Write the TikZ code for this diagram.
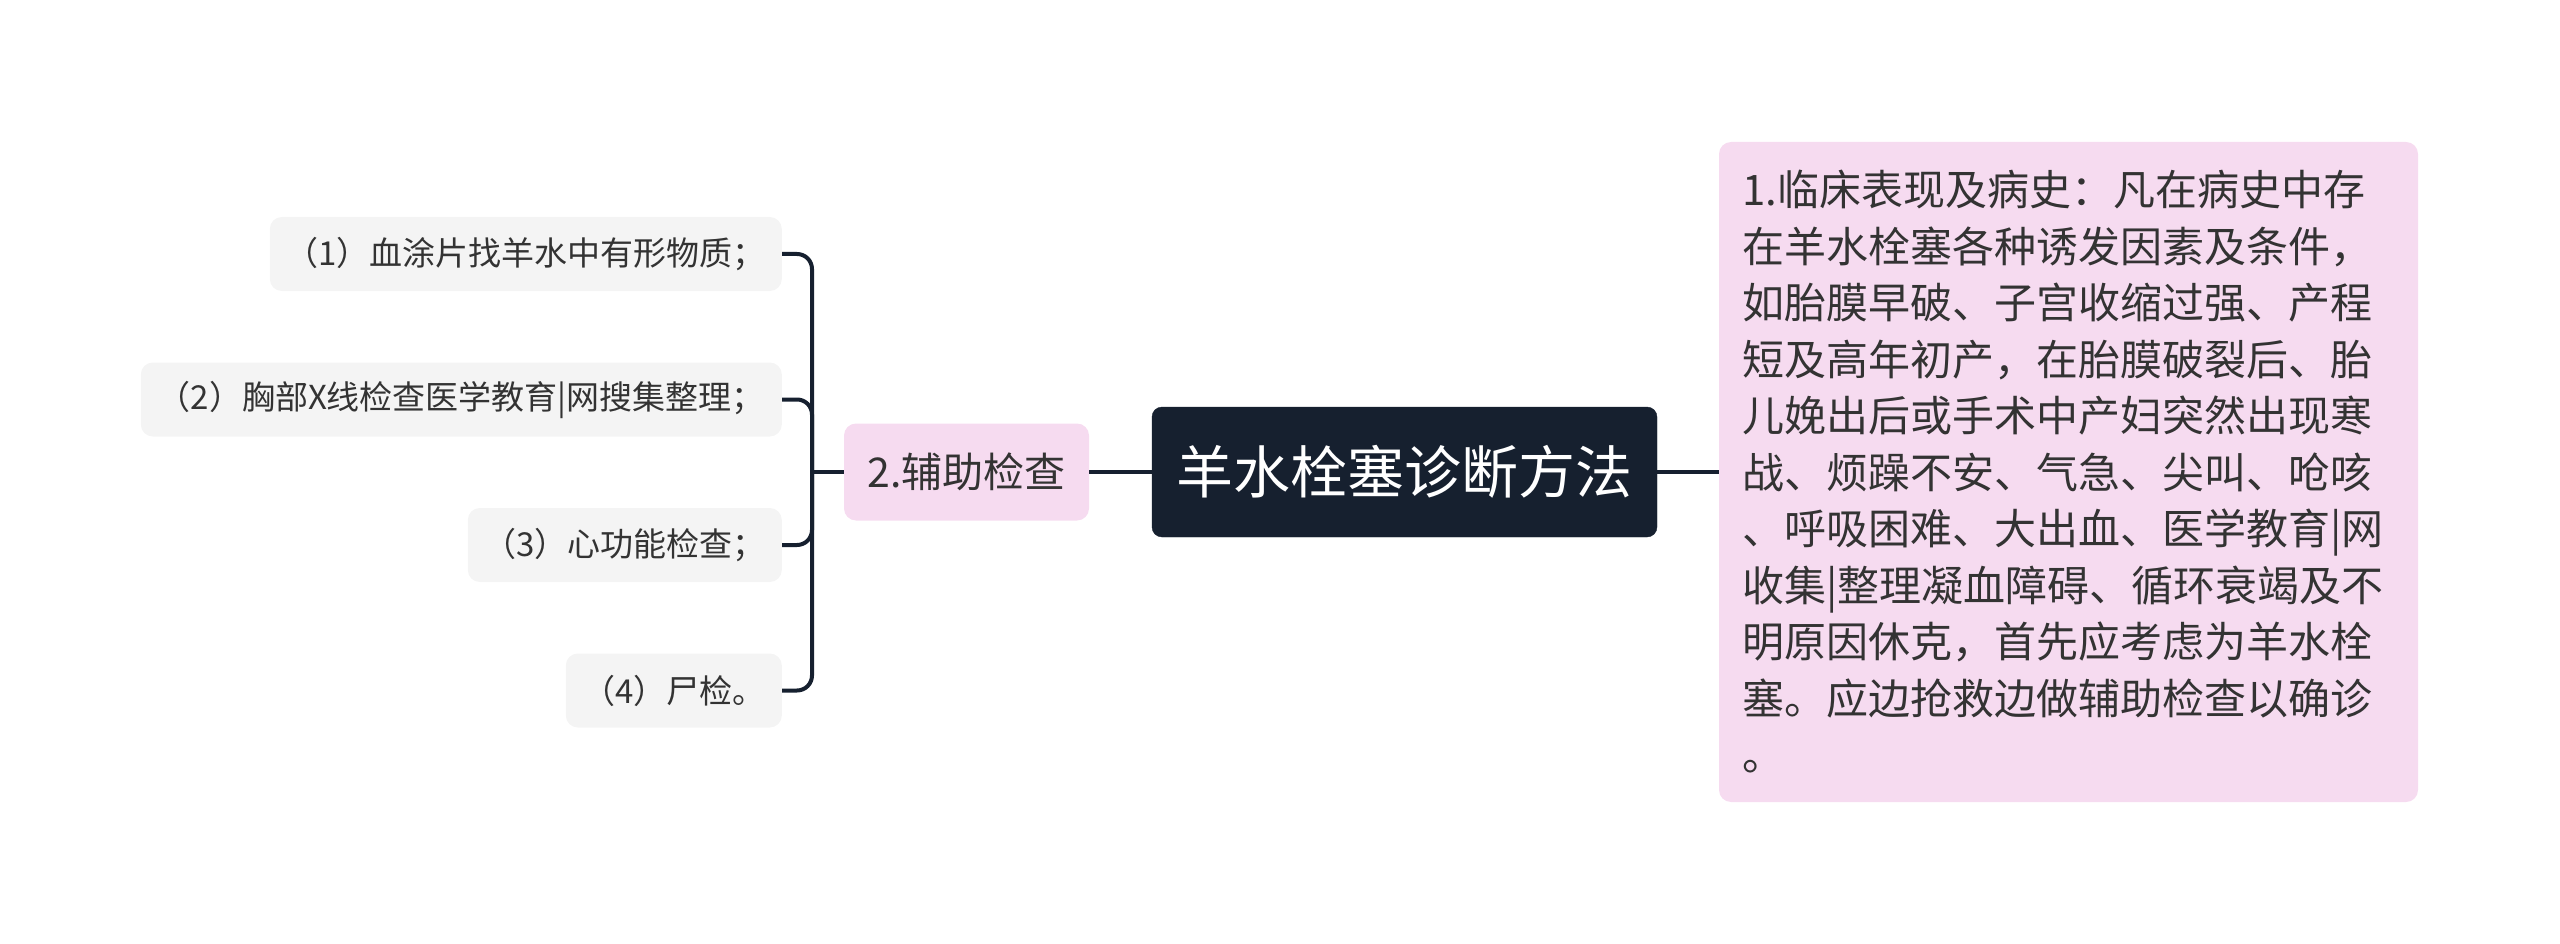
\documentclass[tikz,border=0pt]{standalone}
\usepackage{fontspec}
\newfontfamily\cjk{Noto Sans CJK SC}
\definecolor{navy}{HTML}{16202F}
\definecolor{pinkbox}{HTML}{F6DBF0}
\definecolor{leafgray}{HTML}{F4F4F4}
\definecolor{inktext}{HTML}{333333}

\begin{document}
\begin{tikzpicture}[x=1pt,y=-1pt,
		rootbox/.style={fill=navy, draw=navy, rounded corners=10pt, text=white, inner xsep=0pt,
			minimum width=505pt, minimum height=130pt, font=\cjk\fontsize{57pt}{68pt}\selectfont},
		pinkbox/.style={fill=pinkbox, rounded corners=12pt, text=inktext, inner xsep=0pt,
			font=\cjk\fontsize{41pt}{56.5pt}\selectfont},
		leafbox/.style={fill=leafgray, rounded corners=12pt, text=inktext, inner xsep=0pt,
			minimum height=74pt, anchor=east, font=\cjk\fontsize{33pt}{40pt}\selectfont},
		link/.style={draw=navy, line width=4pt, rounded corners=15pt}]
			\useasboundingbox (0,0) rectangle (2560,944);
			\node[rootbox] (root) at (1404.5,472) {羊水栓塞诊断方法};
			\node[pinkbox, minimum width=245pt, minimum height=97pt] (aux) at (966.5,472) {2.辅助检查};
			\node[pinkbox, text width=653pt, inner xsep=23pt, minimum height=660pt, align=left,
				font=\cjk\fontsize{42pt}{56.5pt}\selectfont] (clin) at (2068.5,472)
				{1.临床表现及病史：凡在病史中存\\
				在羊水栓塞各种诱发因素及条件，\\
				如胎膜早破、子宫收缩过强、产程\\
				短及高年初产，在胎膜破裂后、胎\\
				儿娩出后或手术中产妇突然出现寒\\
				战、烦躁不安、气急、尖叫、呛咳\\
				、呼吸困难、大出血、医学教育|网\\
				收集|整理凝血障碍、循环衰竭及不\\
				明原因休克，首先应考虑为羊水栓\\
				塞。应边抢救边做辅助检查以确诊\\
				。};
			\node[leafbox, minimum width=512pt] (leafa) at (782,254) {（1）血涂片找羊水中有形物质；};
			\node[leafbox, minimum width=641pt] (leafb) at (782,399.5) {（2）胸部X线检查医学教育|网搜集整理；};
			\node[leafbox, minimum width=314pt] (leafc) at (782,545) {（3）心功能检查；};
			\node[leafbox, minimum width=216pt] (leafd) at (782,690.5) {（4）尸检。};
			\coordinate (fork) at (812,472);
			\draw[link] (root.east) -- (clin.west);
			\draw[link] (root.west) -- (aux.east);
			\draw[link] (aux.west) -- (fork);
			\draw[link] (leafa.east) -| (fork);
			\draw[link] (leafb.east) -| (fork);
			\draw[link] (leafc.east) -| (fork);
			\draw[link] (leafd.east) -| (fork);
\end{tikzpicture}
\end{document}
